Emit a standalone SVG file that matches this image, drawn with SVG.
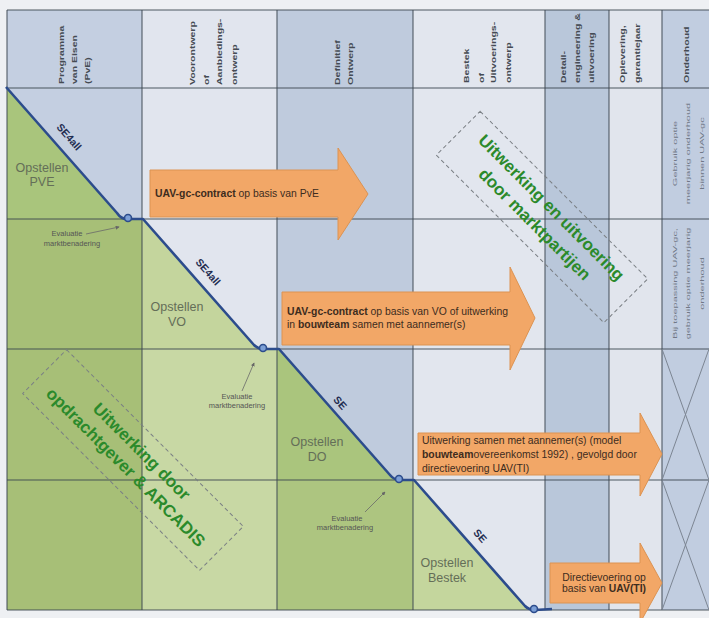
<svg xmlns="http://www.w3.org/2000/svg" width="709" height="618" viewBox="0 0 709 618">
<defs>
<marker id="ah" viewBox="0 0 6 6" refX="5" refY="3" markerWidth="5" markerHeight="5" orient="auto"><path d="M0,0 L6,3 L0,6 z" fill="#666"/></marker>
</defs>
<style>
.hd{font-family:"Liberation Sans",Arial,sans-serif;font-size:10.5px;font-weight:bold;fill:#454b53}
.od{font-family:"Liberation Sans",Arial,sans-serif;font-size:11px;fill:#707886;text-anchor:middle}
.grid{stroke:#3e4852;stroke-opacity:.6;stroke-width:1.6;fill:none}
.xl{stroke:#7c8592;stroke-width:1;fill:none}
.arr{fill:#f2a767;stroke:#dc9352;stroke-width:1}
.at{font-family:"Liberation Sans",Arial,sans-serif;font-size:10.4px;fill:#3d2c1e}
.b{font-weight:bold}
.ph{font-family:"Liberation Sans",Arial,sans-serif;font-size:12.5px;fill:#646e58;text-anchor:middle}
.se{font-family:"Liberation Sans",Arial,sans-serif;font-size:10.5px;font-weight:bold;fill:#1f2d52;text-anchor:middle}
.ev{font-family:"Liberation Sans",Arial,sans-serif;font-size:7.5px;fill:#555;text-anchor:middle}
.dash{fill:none;stroke:#7a7f84;stroke-width:1;stroke-dasharray:4 3}
.gt{font-family:"Liberation Sans",Arial,sans-serif;font-size:17px;font-weight:bold;fill:#2b8a2b;text-anchor:middle}
.step{fill:none;stroke:#2c4c8c;stroke-width:2.6;stroke-linejoin:round}
.loop{fill:#7c9fd6;stroke:#2c4c8c;stroke-width:1.6}
.con{stroke:#6a6a6a;stroke-width:0.8;fill:none;marker-end:url(#ah)}
</style>
<rect x="0" y="0" width="709" height="618" fill="#eef0f3"/>
<g id="columns">
<rect x="7" y="10" width="135" height="600" fill="#c4cfe1"/>
<rect x="142" y="10" width="135" height="600" fill="#e1e5ee"/>
<rect x="277" y="10" width="136" height="600" fill="#bfcbdd"/>
<rect x="413" y="10" width="132" height="600" fill="#e2e6ee"/>
<rect x="545" y="10" width="64" height="600" fill="#b9c7da"/>
<rect x="609" y="10" width="53" height="600" fill="#e1e5ed"/>
<rect x="662" y="10" width="47" height="600" fill="#c1cde0"/>
</g>
<g id="green-areas">
<polygon points="7,88 117,213 123,219 7,219" fill="#a9c57c"/>
<rect x="7" y="219" width="135" height="391" fill="#a7bf77"/>
<polygon points="142,219 254,345 260,349 142,349" fill="#c4d59d"/>
<rect x="142" y="349" width="135" height="261" fill="#c8d8a4"/>
<polygon points="279,349 390,475 396,480 277,480 277,349" fill="#aac57d"/>
<rect x="277" y="480" width="136" height="130" fill="#adc580"/>
<polygon points="414,480 525,606 529,610 413,610 413,480" fill="#c4d69d"/>
</g>
<g id="grid">
<path class="grid" d="M7,10 H709 M7,88 H709 M7,219 H709 M7,349 H709 M7,480 H709 M7,610 H709"/>
<path class="grid" d="M7,10 V610 M142,10 V610 M277,10 V610 M413,10 V610 M545,10 V610 M609,10 V610 M662,10 V610"/>
<path class="xl" d="M662,349 L709,480 M709,349 L662,480 M662,480 L709,610 M709,480 L662,610"/>
</g>
<g id="header">
<text class="hd" transform="translate(64,84) rotate(-90) scale(1,0.6)">Programma</text>
<text class="hd" transform="translate(77,84) rotate(-90) scale(1,0.6)">van Eisen</text>
<text class="hd" transform="translate(90,84) rotate(-90) scale(1,0.6)">(PvE)</text>
<text class="hd" transform="translate(195,85) rotate(-90) scale(1,0.6)">Voorontwerp</text>
<text class="hd" transform="translate(209,85) rotate(-90) scale(1,0.6)">of</text>
<text class="hd" transform="translate(222,85) rotate(-90) scale(1,0.6)">Aanbiedings-</text>
<text class="hd" transform="translate(237,85) rotate(-90) scale(1,0.6)">ontwerp</text>
<text class="hd" transform="translate(340,85) rotate(-90) scale(1,0.6)">Definitief</text>
<text class="hd" transform="translate(353,85) rotate(-90) scale(1,0.6)">Ontwerp</text>
<text class="hd" transform="translate(469,83) rotate(-90) scale(1,0.6)">Bestek</text>
<text class="hd" transform="translate(484,83) rotate(-90) scale(1,0.6)">of</text>
<text class="hd" transform="translate(496,83) rotate(-90) scale(1,0.6)">Uitvoerings-</text>
<text class="hd" transform="translate(511,83) rotate(-90) scale(1,0.6)">ontwerp</text>
<text class="hd" transform="translate(566,83) rotate(-90) scale(1,0.6)">Detail-</text>
<text class="hd" transform="translate(580,83) rotate(-90) scale(1,0.6)">engineering &amp;</text>
<text class="hd" transform="translate(594,83) rotate(-90) scale(1,0.6)">uitvoering</text>
<text class="hd" transform="translate(625,83) rotate(-90) scale(1,0.6)">Oplevering,</text>
<text class="hd" transform="translate(640,83) rotate(-90) scale(1,0.6)">garantiejaar</text>
<text class="hd" transform="translate(689,83) rotate(-90) scale(1,0.6)">Onderhoud</text>
</g>
<g id="onderhoud-text">
<text class="od" transform="translate(677,153.5) rotate(-90) scale(1,0.55)">Gebruik optie</text>
<text class="od" transform="translate(690,153.5) rotate(-90) scale(1,0.55)">meerjarig onderhoud</text>
<text class="od" transform="translate(704,153.5) rotate(-90) scale(1,0.55)">binnen UAV-gc</text>
<text class="od" transform="translate(677,283.5) rotate(-90) scale(1,0.55)">Bij toepassing UAV-gc,</text>
<text class="od" transform="translate(690,283.5) rotate(-90) scale(1,0.55)">gebruik optie meerjarig</text>
<text class="od" transform="translate(704,283.5) rotate(-90) scale(1,0.55)">onderhoud</text>
</g>
<g id="arrow-pve">
<path class="arr" d="M150,170 H338 V148 L368,194 L338,240 V217 H150 Z"/>
<text class="at" x="155" y="197"><tspan class="b">UAV-gc-contract</tspan> op basis van PvE</text>
</g>
<g id="arrow-vo">
<path class="arr" d="M282,292 H510 V267 L535,318 L510,370 V345 H282 Z"/>
<text class="at" x="287" y="315"><tspan class="b">UAV-gc-contract</tspan> op basis van VO of uitwerking</text>
<text class="at" x="287" y="328">in <tspan class="b">bouwteam</tspan> samen met aannemer(s)</text>
</g>
<g id="arrow-do">
<path class="arr" d="M418,433 H640 V413 L662,454 L640,496 V475 H418 Z"/>
<text class="at" x="422" y="444">Uitwerking samen met aannemer(s) (model</text>
<text class="at" x="422" y="458"><tspan class="b">bouwteam</tspan>overeenkomst 1992) , gevolgd door</text>
<text class="at" x="422" y="472">directievoering UAV(TI)</text>
</g>
<g id="arrow-bestek">
<path class="arr" d="M550,563 H640 V543 L662,583 L640,623 V603 H550 Z"/>
<text class="at" x="604" y="581" text-anchor="middle">Directievoering op</text>
<text class="at" x="604" y="592" text-anchor="middle">basis van <tspan class="b">UAV(TI)</tspan></text>
</g>
<g id="step-line">
<path class="step" d="M6,87 L117,213 Q121,219 127,219 L143,219 L254,345 Q258,349 264,349 L279,349 L390,475 Q394,480 400,480 L414,480 L525,606 Q529,610 535,610 L552,609"/>
<circle class="loop" cx="128" cy="218" r="3.5"/>
<circle class="loop" cx="263" cy="348" r="3.5"/>
<circle class="loop" cx="399" cy="479" r="3.5"/>
<circle class="loop" cx="534" cy="609" r="3.5"/>
</g>
<g id="se-labels">
<text class="se" transform="translate(69,137) rotate(48.6)" y="3.5">SE4all</text>
<text class="se" transform="translate(208,272) rotate(48.6)" y="3.5">SE4all</text>
<text class="se" transform="translate(340,403) rotate(48.6)" y="3.5">SE</text>
<text class="se" transform="translate(480,536) rotate(48.6)" y="3.5">SE</text>
</g>
<g id="phase-pve"><text class="ph" x="42" y="172">Opstellen</text><text class="ph" x="42" y="186">PVE</text></g>
<g id="phase-vo"><text class="ph" x="177" y="311">Opstellen</text><text class="ph" x="177" y="326">VO</text></g>
<g id="phase-do"><text class="ph" x="317" y="446">Opstellen</text><text class="ph" x="317" y="461">DO</text></g>
<g id="phase-bestek"><text class="ph" x="447" y="567">Opstellen</text><text class="ph" x="447" y="582">Bestek</text></g>
<g id="eval-1"><text class="ev" x="67" y="236">Evaluatie</text><text class="ev" x="72" y="246">marktbenadering</text></g>
<g id="eval-2"><text class="ev" x="237" y="399">Evaluatie</text><text class="ev" x="237" y="408">marktbenadering</text></g>
<g id="eval-3"><text class="ev" x="347" y="521">Evaluatie</text><text class="ev" x="345" y="530">marktbenadering</text></g>
<g id="connectors">
<path class="con" d="M86,234 L119,227"/>
<path class="con" d="M242,391 L254,363"/>
<path class="con" d="M365,512 L385,492"/>
</g>
<g id="box-markt" transform="translate(542,217) rotate(45)">
<rect class="dash" x="-118.5" y="-31" width="237" height="62"/>
<text class="gt" y="-7.5">Uitwerking en uitvoering</text>
<text class="gt" y="16">door marktpartijen</text>
</g>
<g id="box-opdrachtgever" transform="translate(133,460) rotate(45)">
<rect class="dash" x="-125" y="-31" width="250" height="62"/>
<text class="gt" y="-6.5">Uitwerking door</text>
<text class="gt" y="16">opdrachtgever &amp; ARCADIS</text>
</g>
</svg>
